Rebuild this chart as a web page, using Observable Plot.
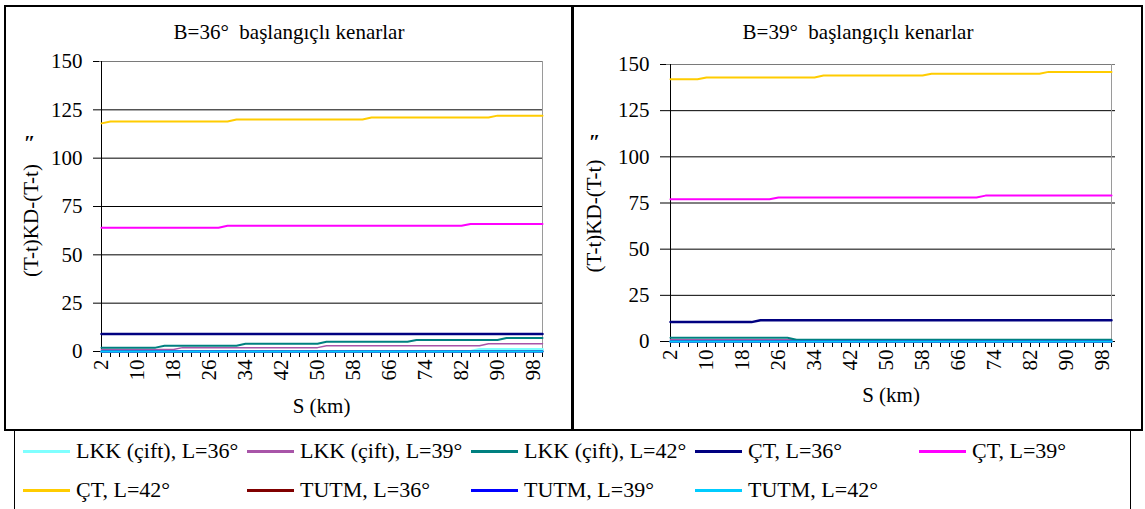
<!DOCTYPE html>
<html><head><meta charset="utf-8">
<script src="https://cdn.jsdelivr.net/npm/d3@7"></script>
<script src="https://cdn.jsdelivr.net/npm/@observablehq/plot@0.6"></script>
<style>
body{margin:0;background:#fff;width:1145px;height:509px;overflow:hidden;position:relative;font-family:"Liberation Serif","Times New Roman",serif;color:#000;}
.panel{position:absolute;border:2px solid #000;box-sizing:border-box;}
.title{position:absolute;font-size:21px;white-space:pre;transform:translate(-50%,-50%);line-height:1;}
.plot{position:absolute;}
.plot svg{overflow:visible;}
#legend{position:absolute;left:14px;top:430px;width:1117px;height:90px;border:1px solid #000;box-sizing:border-box;}
.li{position:absolute;font-size:22px;white-space:nowrap;display:flex;align-items:center;height:24px;transform:translateY(-50%);}
.sw{display:inline-block;width:47px;height:3px;margin-right:6px;}
</style>
</head><body>
<div class="panel" style="left:4px;top:5px;width:570px;height:426px;"></div>
<div class="panel" style="left:571px;top:5px;width:572px;height:426px;"></div>
<div class="title" id="t1" style="left:289px;top:32px;"></div>
<div class="title" id="t2" style="left:858px;top:32px;"></div>
<div class="plot" id="p1" style="left:7px;top:45px;"></div>
<div class="plot" id="p2" style="left:575px;top:45px;"></div>
<div id="legend"></div>
<script>
// ---- data ----
const S = [2,4,6,8,10,12,14,16,18,20,22,24,26,28,30,32,34,36,38,40,42,44,46,48,50,52,54,56,58,60,62,64,66,68,70,72,74,76,78,80,82,84,86,88,90,92,94,96,98,100];
const xTickLabels = [2,10,18,26,34,42,50,58,66,74,82,90,98];
const yTicks = [0,25,50,75,100,125,150];
const titles = ["B=36°  başlangıçlı kenarlar", "B=39°  başlangıçlı kenarlar"];
const xLabel = "S (km)";
const yLabel = "(T-t)KD-(T-t)";
const yUnit = "\u2033";
const seriesNames = ["LKK (çift), L=36°","LKK (çift), L=39°","LKK (çift), L=42°","ÇT, L=36°","ÇT, L=39°","ÇT, L=42°","TUTM, L=36°","TUTM, L=39°","TUTM, L=42°"];
const seriesColors = ["#80FFFF","#A855A8","#008080","#000080","#FF00FF","#FFCC00","#800000","#0000FF","#00CCFF"];

// B=36° panel
const b36_lkk36 = [0,0,0,0,0,0,0,0,0,0, 0,0,0,0,0,0,0,0,0,0, 0,0,0,0,0,0,0,0,0,0, 0,0,0,0,0,0,0,0,0,0, 0,0,1,1,1,1,1,1,1,1];
const b36_lkk39 = [1,1,1,1,1,1,1,1,1,2, 2,2,2,2,2,2,2,2,2,2, 2,2,2,2,2,3,3,3,3,3, 3,3,3,3,3,3,3,3,3,3, 3,3,3,4,4,4,4,4,4,4];
const b36_lkk42 = [2,2,2,2,2,2,2,3,3,3, 3,3,3,3,3,3,4,4,4,4, 4,4,4,4,4,5,5,5,5,5, 5,5,5,5,5,6,6,6,6,6, 6,6,6,6,6,7,7,7,7,7];
const b36_ct36  = [9,9,9,9,9,9,9,9,9,9, 9,9,9,9,9,9,9,9,9,9, 9,9,9,9,9,9,9,9,9,9, 9,9,9,9,9,9,9,9,9,9, 9,9,9,9,9,9,9,9,9,9];
const b36_ct39  = [64,64,64,64,64,64,64,64,64,64, 64,64,64,64,65,65,65,65,65,65, 65,65,65,65,65,65,65,65,65,65, 65,65,65,65,65,65,65,65,65,65, 65,66,66,66,66,66,66,66,66,66];
const b36_ct42  = [118,119,119,119,119,119,119,119,119,119, 119,119,119,119,119,120,120,120,120,120, 120,120,120,120,120,120,120,120,120,120, 121,121,121,121,121,121,121,121,121,121, 121,121,121,121,122,122,122,122,122,122];
const b36_tutm36 = [0,0,0,0,0,0,0,0,0,0, 0,0,0,0,0,0,0,0,0,0, 0,0,0,0,0,0,0,0,0,0, 0,0,0,0,0,0,0,0,0,0, 0,0,0,0,0,0,0,0,0,0];
const b36_tutm39 = [0,0,0,0,0,0,0,0,0,0, 0,0,0,0,0,0,0,0,0,0, 0,0,0,0,0,0,0,0,0,0, 0,0,0,0,0,0,0,0,0,0, 0,0,0,0,0,0,0,0,0,0];
const b36_tutm42 = [0,0,0,0,0,0,0,0,0,0, 0,0,0,0,0,0,0,0,0,0, 0,0,0,0,0,0,0,0,0,0, 0,0,0,0,0,0,0,0,0,0, 0,0,0,0,0,0,0,0,0,0];

// B=39° panel
const b39_lkk36 = [0,0,0,0,0,0,0,0,0,0, 0,0,0,0,0,0,0,0,0,0, 0,0,0,0,0,0,0,0,0,0, 0,0,0,0,0,0,0,0,0,0, 0,0,0,0,0,0,0,0,0,0];
const b39_lkk39 = [1,1,1,1,1,1,1,1,1,1, 1,1,1,1,1,1,1,1,1,1, 1,1,1,1,1,1,1,1,1,1, 1,1,1,1,1,1,1,1,1,1, 1,1,1,1,1,1,1,1,1,1];
const b39_lkk42 = [2,2,2,2,2,2,2,2,2,2, 2,2,2,2,1,1,1,1,1,1, 1,1,1,1,1,1,1,1,1,1, 1,1,1,1,1,1,1,1,1,1, 1,1,1,1,1,1,1,1,1,1];
const b39_ct36  = [10.5,10.5,10.5,10.5,10.5,10.5,10.5,10.5,10.5,10.5, 11.5,11.5,11.5,11.5,11.5,11.5,11.5,11.5,11.5,11.5, 11.5,11.5,11.5,11.5,11.5,11.5,11.5,11.5,11.5,11.5, 11.5,11.5,11.5,11.5,11.5,11.5,11.5,11.5,11.5,11.5, 11.5,11.5,11.5,11.5,11.5,11.5,11.5,11.5,11.5,11.5];
const b39_ct39  = [77,77,77,77,77,77,77,77,77,77, 77,77,78,78,78,78,78,78,78,78, 78,78,78,78,78,78,78,78,78,78, 78,78,78,78,78,79,79,79,79,79, 79,79,79,79,79,79,79,79,79,79];
const b39_ct42  = [142,142,142,142,143,143,143,143,143,143, 143,143,143,143,143,143,143,144,144,144, 144,144,144,144,144,144,144,144,144,145, 145,145,145,145,145,145,145,145,145,145, 145,145,146,146,146,146,146,146,146,146];
const b39_tutm36 = [0,0,0,0,0,0,0,0,0,0, 0,0,0,0,0,0,0,0,0,0, 0,0,0,0,0,0,0,0,0,0, 0,0,0,0,0,0,0,0,0,0, 0,0,0,0,0,0,0,0,0,0];
const b39_tutm39 = [0,0,0,0,0,0,0,0,0,0, 0,0,0,0,0,0,0,0,0,0, 0,0,0,0,0,0,0,0,0,0, 0,0,0,0,0,0,0,0,0,0, 0,0,0,0,0,0,0,0,0,0];
const b39_tutm42 = [0,0,0,0,0,0,0,0,0,0, 0,0,0,0,0,0,0,0,0,0, 0,0,0,0,0,0,0,0,0,0, 0,0,0,0,0,0,0,0,0,0, 0,0,0,0,0,0,0,0,0,0];

const panel36 = [b36_lkk36,b36_lkk39,b36_lkk42,b36_ct36,b36_ct39,b36_ct42,b36_tutm36,b36_tutm39,b36_tutm42];
const panel39 = [b39_lkk36,b39_lkk39,b39_lkk42,b39_ct36,b39_ct39,b39_ct42,b39_tutm36,b39_tutm39,b39_tutm42];

// ---- drawing ----
const seriesWidths = [3,1.5,2,2.5,2,2,2,2,2];
const FS = 21;

function makePanel(values, cfg) {
  const marks = [
    Plot.gridY(yTicks.filter(d => d > 0 && d < 150), {stroke: "#000", strokeOpacity: 1, strokeWidth: 1}),
    Plot.ruleY([150], {stroke: "#7a7a7a"}),
    Plot.ruleX([S[S.length - 1]], {stroke: "#9a9a9a"}),
    Plot.ruleX([S[0]], {stroke: "#000"}),
    Plot.ruleY([0], {stroke: "#000"}),
    Plot.axisY(yTicks, {tickSize: 6, tickPadding: 11, fontSize: FS, label: null}),
    Plot.axisX(S, {tickSize: 6, tickPadding: 2, tickRotate: -90, textAnchor: "end", fontSize: FS, label: null,
      tickFormat: d => xTickLabels.includes(d) ? String(d) : ""}),
    ...values.map((v, k) => Plot.lineY(v, {x: (d, i) => S[i], y: d => d, stroke: seriesColors[k], strokeWidth: seriesWidths[k]})),
    Plot.text([xLabel], {frameAnchor: "bottom", dy: cfg.xDy, lineAnchor: "middle", textAnchor: "middle", fontSize: FS}),
    Plot.text([yLabel], {frameAnchor: "left", dx: cfg.yDx, dy: cfg.yDy, rotate: -90, textAnchor: "middle", lineAnchor: "middle", fontSize: FS}),
    Plot.text([yUnit], {frameAnchor: "top-left", dx: cfg.uDx, dy: cfg.uDy, textAnchor: "middle", lineAnchor: "middle", fontSize: FS, fontWeight: "bold", fontStyle: "italic"})
  ];
  return Plot.plot({
    width: cfg.width, height: cfg.height,
    marginLeft: cfg.ml, marginRight: cfg.mr, marginTop: cfg.mt, marginBottom: cfg.mb,
    style: {fontFamily: '"Liberation Serif","Times New Roman",serif', fontSize: FS + "px", background: "transparent", color: "#000"},
    x: {type: "point", domain: S, padding: 0},
    y: {domain: [0, 150]},
    marks
  });
}

document.getElementById("t1").textContent = titles[0];
document.getElementById("t2").textContent = titles[1];
document.getElementById("p1").appendChild(makePanel(panel36, {width: 560, height: 380, ml: 92, mr: 24, mt: 16, mb: 74, xDy: 55, yDx: -68, yDy: 14, uDx: -70, uDy: 82}));
document.getElementById("p2").appendChild(makePanel(panel39, {width: 565, height: 380, ml: 91, mr: 25, mt: 19, mb: 84, xDy: 54, yDx: -72, yDy: 13, uDx: -72, uDy: 78}));

// legend
const legendCols = 5, colW = 224, rowH = 39;
const leg = document.getElementById("legend");
seriesNames.forEach((name, k) => {
  const item = document.createElement("div");
  item.className = "li";
  item.style.left = (8 + (k % legendCols) * colW) + "px";
  item.style.top = (20 + Math.floor(k / legendCols) * rowH) + "px";
  const sw = document.createElement("span");
  sw.className = "sw";
  sw.style.background = seriesColors[k];
  item.appendChild(sw);
  item.appendChild(document.createTextNode(name));
  leg.appendChild(item);
});
</script>
</body></html>
